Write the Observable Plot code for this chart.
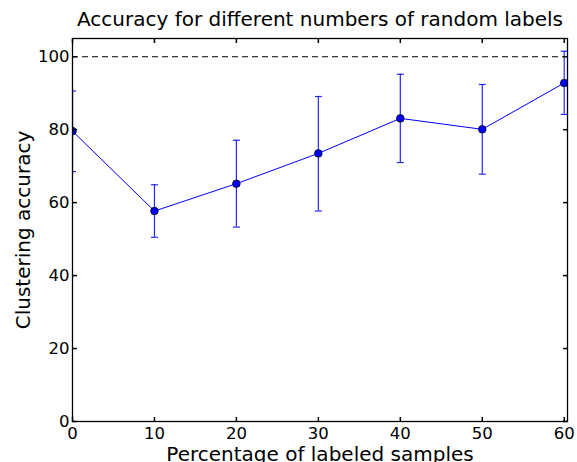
<!DOCTYPE html>
<html><head><meta charset="utf-8">
<script src="https://cdn.jsdelivr.net/npm/d3@7"></script>
<script src="https://cdn.jsdelivr.net/npm/@observablehq/plot@0.6"></script>
<style>body{margin:0;background:#fff;} svg{display:block;}</style>
</head><body><div id="chart"></div>
<script>
const percentages = [0, 10, 20, 30, 40, 50, 60];
const accuracy = [79.6, 57.7, 65.2, 73.5, 83.1, 80.1, 92.8];
const errLow = [68.5, 50.5, 53.3, 57.7, 71.0, 67.8, 84.2];
const errHigh = [90.6, 64.9, 77.1, 89.1, 95.2, 92.4, 101.5];
const xTicks = [0, 10, 20, 30, 40, 50, 60];
const yTicks = [0, 20, 40, 60, 80, 100];
const referenceLevel = [100];
const titleText = ["Accuracy for different numbers of random labels"];
const xLabel = ["Percentage of labeled samples"];
const yLabel = ["Clustering accuracy"];

const data = percentages.map((p, i) => ({p, acc: accuracy[i], lo: errLow[i], hi: errHigh[i]}));

const capSym = {draw(c) { c.moveTo(-3.5, 0); c.lineTo(3.5, 0); }};
const tickL = {draw(c) { c.moveTo(0, 0); c.lineTo(4.5, 0); }};
const tickR = {draw(c) { c.moveTo(0, 0); c.lineTo(-4.5, 0); }};
const tickT = {draw(c) { c.moveTo(0, 0); c.lineTo(0, 4.5); }};
const tickB = {draw(c) { c.moveTo(0, 0); c.lineTo(0, -4.5); }};
const blue = "#0000ff";

const chart = Plot.plot({
  width: 577, height: 462,
  marginLeft: 72, marginRight: 10, marginTop: 38, marginBottom: 41,
  style: {fontFamily: "DejaVu Sans", fontSize: "16.5px", background: "#fff", color: "#000", overflow: "visible"},
  x: {domain: [0, 60.4]},
  y: {domain: [0, 105]},
  marks: [
    Plot.ruleY(referenceLevel, {y: d => d, x1: 0, x2: 60, stroke: "black", strokeWidth: 1, strokeDasharray: "6,4"}),
    Plot.ruleX(data, {x: "p", y1: "lo", y2: "hi", stroke: blue, strokeWidth: 1.2, strokeOpacity: 0.85, clip: true}),
    Plot.dot(data, {x: "p", y: "lo", symbol: capSym, stroke: blue, strokeWidth: 1.2, strokeOpacity: 0.85, fill: "none", clip: true}),
    Plot.dot(data, {x: "p", y: "hi", symbol: capSym, stroke: blue, strokeWidth: 1.2, strokeOpacity: 0.85, fill: "none", clip: true}),
    Plot.line(data, {x: "p", y: "acc", stroke: blue, strokeWidth: 1, clip: true}),
    Plot.dot(data, {x: "p", y: "acc", r: 3.8, fill: blue, stroke: "black", strokeWidth: 0.8, clip: true}),
    Plot.dot(yTicks, {y: d => d, frameAnchor: "left", symbol: tickL, stroke: "black", fill: "none"}),
    Plot.dot(yTicks, {y: d => d, frameAnchor: "right", symbol: tickR, stroke: "black", fill: "none"}),
    Plot.dot(xTicks, {x: d => d, frameAnchor: "top", symbol: tickT, stroke: "black", fill: "none"}),
    Plot.dot(xTicks, {x: d => d, frameAnchor: "bottom", symbol: tickB, stroke: "black", fill: "none"}),
    Plot.frame({stroke: "black", strokeWidth: 1.3}),
    Plot.axisY({ticks: yTicks, tickSize: 0, tickPadding: 3, label: null, fontSize: 16.5}),
    Plot.axisX({ticks: xTicks, tickSize: 0, tickPadding: 6, label: null, fontSize: 16.5}),
    Plot.text(titleText, {text: d => d, frameAnchor: "top", lineAnchor: "bottom", dy: -13, fontSize: 20}),
    Plot.text(xLabel, {text: d => d, frameAnchor: "bottom", lineAnchor: "bottom", dy: 39, fontSize: 20}),
    Plot.text(yLabel, {text: d => d, frameAnchor: "left", textAnchor: "middle", lineAnchor: "bottom", rotate: -90, dx: -43, fontSize: 20})
  ]
});
document.getElementById("chart").appendChild(chart);
</script>
</body></html>
